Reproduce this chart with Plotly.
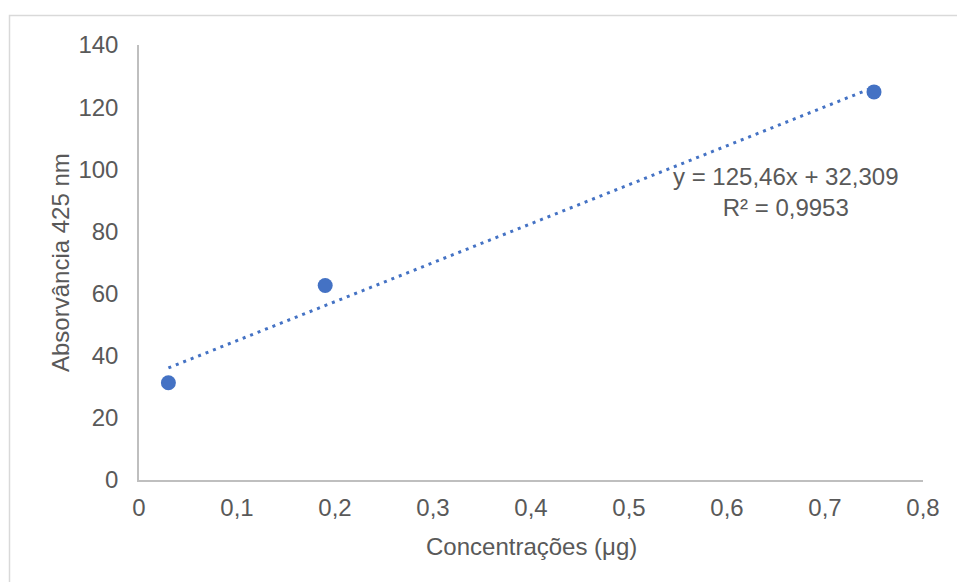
import numpy as np
import plotly.graph_objects as go

# Data
concentracoes = [0.03, 0.19, 0.75]
absorvancia = [31.3, 62.6, 124.9]

# Trendline as reported on the chart
slope = 125.46
intercept = 32.309
r2 = 0.9953

x_ticks = [0, 0.1, 0.2, 0.3, 0.4, 0.5, 0.6, 0.7, 0.8]
x_ticklabels = ["0", "0,1", "0,2", "0,3", "0,4", "0,5", "0,6", "0,7", "0,8"]
y_ticks = [0, 20, 40, 60, 80, 100, 120, 140]

W, H = 957, 582
ML, MR, MT, MB = 139, 34, 45, 102
FONT = "Liberation Sans, Arial, sans-serif"
FS = 24
BLUE = "#4472C4"
TXT = "#595959"

trend_x = np.array([min(concentracoes), max(concentracoes)])
trend_y = slope * trend_x + intercept

fig = go.Figure()
fig.add_trace(go.Scatter(
    x=trend_x, y=trend_y, mode="lines",
    line=dict(color=BLUE, width=3, dash="3px,5px"),
    hoverinfo="skip", showlegend=False,
))
fig.add_trace(go.Scatter(
    x=concentracoes, y=absorvancia, mode="markers",
    marker=dict(color=BLUE, size=15, line=dict(width=0)),
    showlegend=False,
))

pw = W - ML - MR
ph = H - MT - MB

def px_to_paper_x(px):
    return (px - ML) / pw

def px_to_paper_y(py):
    return (H - MB - py) / ph

# outer chart border (light gray), running off the right and bottom edges
fig.add_shape(type="rect", xref="paper", yref="paper",
              x0=px_to_paper_x(9.5), x1=px_to_paper_x(W + 30),
              y0=px_to_paper_y(H + 30), y1=px_to_paper_y(15.5),
              line=dict(color="#d9d9d9", width=1.5), fillcolor="rgba(0,0,0,0)",
              layer="below")

fig.update_layout(
    width=W, height=H,
    margin=dict(l=ML, r=MR, t=MT, b=MB),
    paper_bgcolor="white", plot_bgcolor="white",
    font=dict(family=FONT, size=FS, color=TXT),
    xaxis=dict(range=[0, 0.8], tickvals=x_ticks, ticktext=x_ticklabels,
               showgrid=False, zeroline=False, showline=True,
               linecolor="#bfbfbf", linewidth=1.5, ticks="",
               ticklabelstandoff=5, fixedrange=True),
    yaxis=dict(range=[0, 140], tickvals=y_ticks,
               showgrid=False, zeroline=False, showline=True,
               linecolor="#bfbfbf", linewidth=1.5, ticks="",
               ticklabelstandoff=14, fixedrange=True),
    annotations=[
        dict(text="Concentrações (μg)", xref="paper", yref="paper",
             x=0.5, y=px_to_paper_y(546), xanchor="center", yanchor="middle",
             showarrow=False, font=dict(size=FS, color=TXT)),
        dict(text="Absorvância 425 nm", xref="paper", yref="paper",
             x=px_to_paper_x(60), y=px_to_paper_y(263), xanchor="center",
             yanchor="middle", textangle=-90, showarrow=False,
             font=dict(size=FS, color=TXT)),
        dict(text=f"y = {str(slope).replace('.', ',')}x + {str(intercept).replace('.', ',')}<br>R² = {str(r2).replace('.', ',')}",
             xref="x", yref="y", x=0.66, y=92.6, xanchor="center", yanchor="middle",
             align="center", showarrow=False, font=dict(size=FS, color=TXT)),
    ],
)

fig.write_html(
    "out.html",
    config={"displayModeBar": False},
    post_script="document.body.style.margin='0';document.body.style.overflow='hidden';",
)
